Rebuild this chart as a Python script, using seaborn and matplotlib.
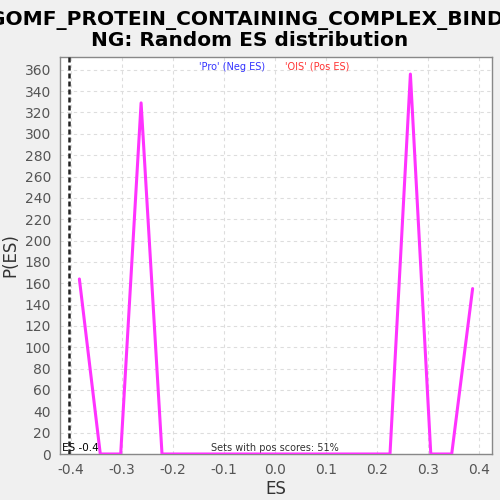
import matplotlib
matplotlib.use("Agg")
import matplotlib.pyplot as plt
import seaborn as sns
import pandas as pd

es_values = [-0.384, -0.343, -0.303, -0.263, -0.222, -0.182, -0.141, -0.100, -0.060,
             -0.019, 0.022, 0.062, 0.103, 0.144, 0.184, 0.225, 0.265, 0.305, 0.346, 0.387]
p_es = [164, 0, 0, 329, 0, 0, 0, 0, 0, 0, 0, 0, 0, 0, 0, 0, 356, 0, 0, 155]
actual_es = -0.404
x_ticks = [-0.4, -0.3, -0.2, -0.1, 0.0, 0.1, 0.2, 0.3, 0.4]
y_ticks = list(range(0, 361, 20))

sns.set_style("white")
plt.rcParams['font.family'] = ['DejaVu Sans']

df = pd.DataFrame({"ES": es_values, "P(ES)": p_es})

fig = plt.figure(figsize=(5, 5), dpi=100, facecolor="#f0f0f0")
ax = fig.add_axes([0.12, 0.092, 0.864, 0.794])
ax.set_facecolor("white")

sns.lineplot(data=df, x="ES", y="P(ES)", ax=ax, color="#ff33ff", linewidth=2.2, zorder=3)
ax.axvline(actual_es, color="#222222", linestyle=(0, (2, 1.2)), linewidth=1.8, zorder=4)

ax.set_xlim(-0.422, 0.425)
ax.set_ylim(0, 372)
ax.set_xticks(x_ticks)
ax.set_xticklabels([f"{t:.1f}" for t in x_ticks])
ax.set_yticks(y_ticks)
ax.grid(True, color="#dddddd", linestyle=(0, (3, 3)), linewidth=0.8)
for s in ax.spines.values():
    s.set_color("#888888")
    s.set_linewidth(1)
ax.tick_params(axis="both", colors="#555555", labelsize=10, length=3, width=0.8)
ax.set_xlabel("ES", fontsize=12, color="#333333", labelpad=2)
ax.set_ylabel("P(ES)", fontsize=12, color="#333333", labelpad=4)

ax.text(-0.347, 1, "Actual ES -0.4", fontsize=7.5, ha="right", va="bottom", color="black",
        clip_on=True, zorder=2)
ax.text(0.0, 1, "Sets with pos scores: 51%", fontsize=7, ha="center", va="bottom",
        color="#333333", zorder=2)
ax.text(-0.019, 0.975, "'Pro' (Neg ES)", transform=ax.get_xaxis_transform(), fontsize=7,
        ha="right", va="center", color="#3333ff")
ax.text(0.02, 0.975, "'OIS' (Pos ES)", transform=ax.get_xaxis_transform(), fontsize=7,
        ha="left", va="center", color="#ff3333")

fig.text(0.5, 0.958, "GOMF_PROTEIN_CONTAINING_COMPLEX_BINDI", fontsize=14.5, fontweight="bold",
         ha="center", va="center", color="black")
fig.text(0.5, 0.918, "NG: Random ES distribution", fontsize=14.5, fontweight="bold",
         ha="center", va="center", color="black")

fig.savefig("out.png", dpi=100, facecolor=fig.get_facecolor())
